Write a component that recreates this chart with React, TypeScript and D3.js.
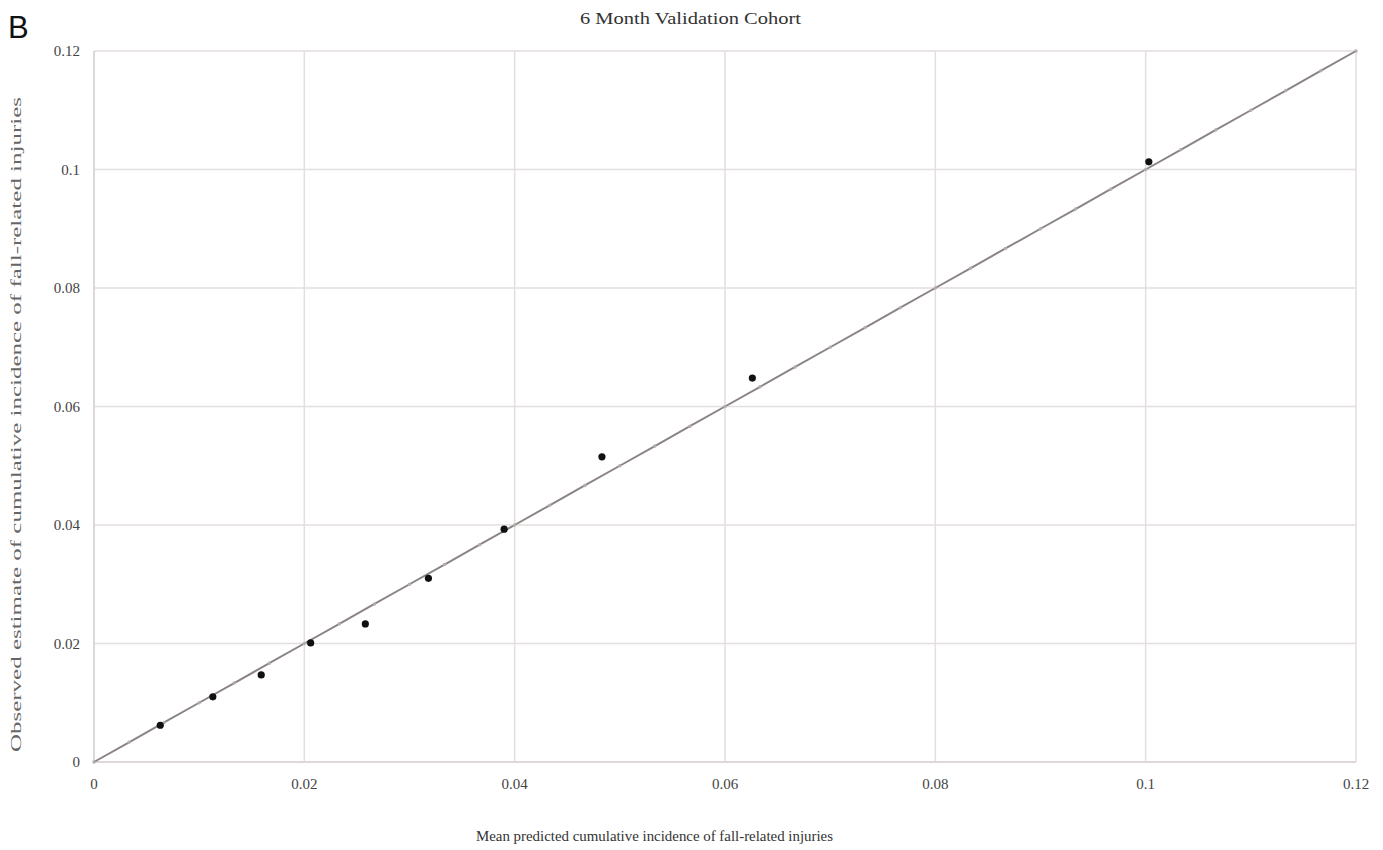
import React from "react";
import * as d3 from "d3";

const predicted = [0.0063, 0.0113, 0.0159, 0.0206, 0.0258, 0.0318, 0.039, 0.0483, 0.0626, 0.1003];
const observed = [0.0062, 0.011, 0.0147, 0.0201, 0.0233, 0.031, 0.0393, 0.0515, 0.0648, 0.1013];
const tickValues = [0, 0.02, 0.04, 0.06, 0.08, 0.1, 0.12];
const tickLabels = ["0", "0.02", "0.04", "0.06", "0.08", "0.1", "0.12"];
const refLine = [
  0, 0.00333, 0.00667, 0.01, 0.01333, 0.01667, 0.02, 0.02333, 0.02667, 0.03, 0.03333, 0.03667,
  0.04, 0.04333, 0.04667, 0.05, 0.05333, 0.05667, 0.06, 0.06333, 0.06667, 0.07, 0.07333, 0.07667,
  0.08, 0.08333, 0.08667, 0.09, 0.09333, 0.09667, 0.1, 0.10333, 0.10667, 0.11, 0.11333, 0.11667, 0.12,
];

export default function App() {
  const W = 1383, H = 850;
  const x = d3.scaleLinear().domain([0, 0.12]).range([94, 1356]);
  const y = d3.scaleLinear().domain([0, 0.12]).range([762, 51]);
  const line = d3.line<number>().x((d) => x(d)).y((d) => y(d));
  const serif = "'Liberation Serif', 'Times New Roman', serif";
  return (
    <svg width={W} height={H} style={{ position: "absolute", left: 0, top: 0, background: "#fff" }}>
      <rect width={W} height={H} fill="#fff" />
      <text x={8} y={38} fontFamily="'Liberation Sans', Arial, sans-serif" fontSize={31} fill="#111">B</text>
      <text x={580} y={24} textLength={221} lengthAdjust="spacingAndGlyphs" fontFamily={serif} fontSize={17} fill="#333">6 Month Validation  Cohort</text>
      {tickValues.map((t, i) => (
        <g key={"g" + i}>
          <line x1={x(t)} x2={x(t)} y1={y(0)} y2={y(0.12)} stroke="#e4dede" strokeWidth={1.5} />
          <line x1={x(0)} x2={x(0.12)} y1={y(t)} y2={y(t)} stroke="#e4dede" strokeWidth={1.5} />
        </g>
      ))}
      <line x1={x(0)} x2={x(0.12)} y1={y(0)} y2={y(0)} stroke="#d9d2d2" strokeWidth={1.5} />
      <line x1={x(0)} x2={x(0)} y1={y(0)} y2={y(0.12)} stroke="#d9d2d2" strokeWidth={1.5} />
      {tickValues.map((t, i) => (
        <text key={"yl" + i} x={80} y={y(t) + 5} textAnchor="end" fontFamily={serif} fontSize={15} fill="#444">{tickLabels[i]}</text>
      ))}
      {tickValues.map((t, i) => (
        <text key={"xl" + i} x={x(t)} y={789} textAnchor="middle" fontFamily={serif} fontSize={15} fill="#444">{tickLabels[i]}</text>
      ))}
      <path d={line(refLine) || ""} fill="none" stroke="#8c8484" strokeWidth={2} />
      {refLine.map((v, i) => (
        <circle key={"r" + i} cx={x(v)} cy={y(v)} r={1.7} fill="#b5adad" />
      ))}
      {predicted.map((p, i) => (
        <circle key={"p" + i} cx={x(p)} cy={y(observed[i])} r={3.6} fill="#111" />
      ))}
      <text x={476} y={841} textLength={357} lengthAdjust="spacingAndGlyphs" fontFamily={serif} fontSize={14.5} fill="#333">Mean predicted  cumulative  incidence  of fall-related  injuries</text>
      <text transform={`translate(21,${752}) rotate(-90)`} textLength={655} lengthAdjust="spacingAndGlyphs" fontFamily={serif} fontSize={14.5} fill="#666">Observed estimate  of cumulative  incidence  of fall-related  injuries</text>
    </svg>
  );
}
